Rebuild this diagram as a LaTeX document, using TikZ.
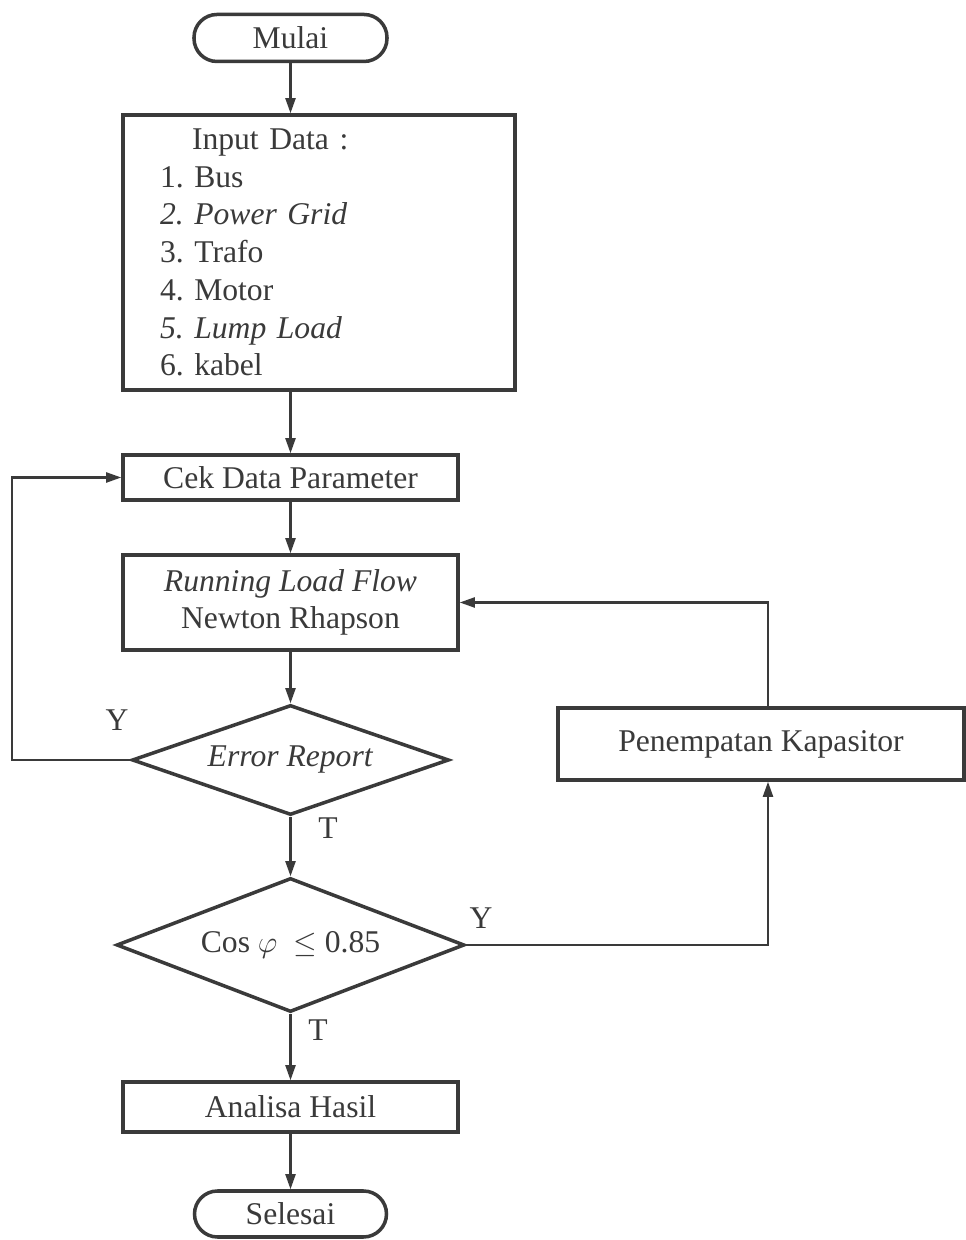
\documentclass[tikz,border=0pt]{standalone}
\usepackage{fontspec}
\setmainfont{Liberation Serif}
\usepackage{amsmath,amssymb}
\usetikzlibrary{arrows.meta,positioning,shapes.geometric,calc}
\frenchspacing
\definecolor{ink}{HTML}{3A3A3A}
\tikzset{
  box/.style={draw=ink, line width=2pt, fill=white, align=center, text=ink, inner sep=4pt, font=\fontsize{18}{21.5}\selectfont},
  terminal/.style={box, rounded corners=0.46cm},
  decision/.style={box, diamond, inner sep=0pt},
  lbl/.style={text=ink, font=\fontsize{18}{21.5}\selectfont},
  arrow/.style={-{Triangle[length=3mm,width=2mm]}, line width=1.2pt, draw=ink},
  flow/.style={line width=1.2pt, draw=ink}
}
\begin{document}
\begin{tikzpicture}
\useasboundingbox (0,0) rectangle (19.32,24.8);
\node[terminal, minimum width=3.86cm, minimum height=0.94cm] (mulai) at (5.81,24.04) {Mulai};
\node[box, minimum width=7.84cm, minimum height=5.5cm, text width=6.36cm, inner xsep=0.74cm, align=left] (input) at (6.38,19.75)
  {\hspace*{0.64cm}Input Data :\\1. Bus\\\textit{2. Power Grid}\\3. Trafo\\4. Motor\\\textit{5. Lump Load}\\6. kabel};
\node[box, minimum width=6.7cm, minimum height=0.9cm] (cek) at (5.81,15.25) {Cek Data Parameter};
\node[box, minimum width=6.7cm, minimum height=1.9cm] (run) at (5.81,12.75) {\textit{Running Load Flow}\\Newton Rhapson};
\node[decision, minimum width=6.34cm, minimum height=2.2cm, aspect=2.9] (err) at (5.81,9.6) {\textit{Error Report}};
\node[decision, minimum width=6.96cm, minimum height=2.68cm, aspect=2.6] (cos) at (5.81,5.9) {Cos~$\varphi$~~$\leq$ 0.85};
\node[box, minimum width=8.12cm, minimum height=1.44cm] (kap) at (15.22,9.92) {Penempatan Kapasitor};
\node[box, minimum width=6.7cm, minimum height=1.0cm] (hasil) at (5.81,2.66) {Analisa Hasil};
\node[terminal, minimum width=3.84cm, minimum height=0.92cm] (selesai) at (5.81,0.52) {Selesai};

% main flow
\draw[arrow] (mulai.south) -- (mulai.south |- input.north);
\draw[arrow] (cek.north |- input.south) -- (cek.north);
\draw[arrow] (cek.south) -- (run.north);
\draw[arrow] (run.south) -- (err.north);
\draw[arrow] (err.south) -- (cos.north);
\draw[arrow] (cos.south) -- (hasil.north);
\draw[arrow] (hasil.south) -- (selesai.north);

% loops
\coordinate (loopL) at (0.24,9.6);
\draw[arrow] (err.west) -- (loopL) |- (cek.west);
\draw[arrow] (cos.east) -| ([xshift=0.14cm]kap.south);
\draw[arrow] ([xshift=0.14cm]kap.north) |- (run.east);

% labels
\node[lbl] (yerr) at (2.34,10.4) {Y};
\node[lbl] (terr) at (6.56,8.24) {T};
\node[lbl] (ycos) at (9.62,6.44) {Y};
\node[lbl] (tcos) at (6.36,4.2) {T};
\end{tikzpicture}
\end{document}
